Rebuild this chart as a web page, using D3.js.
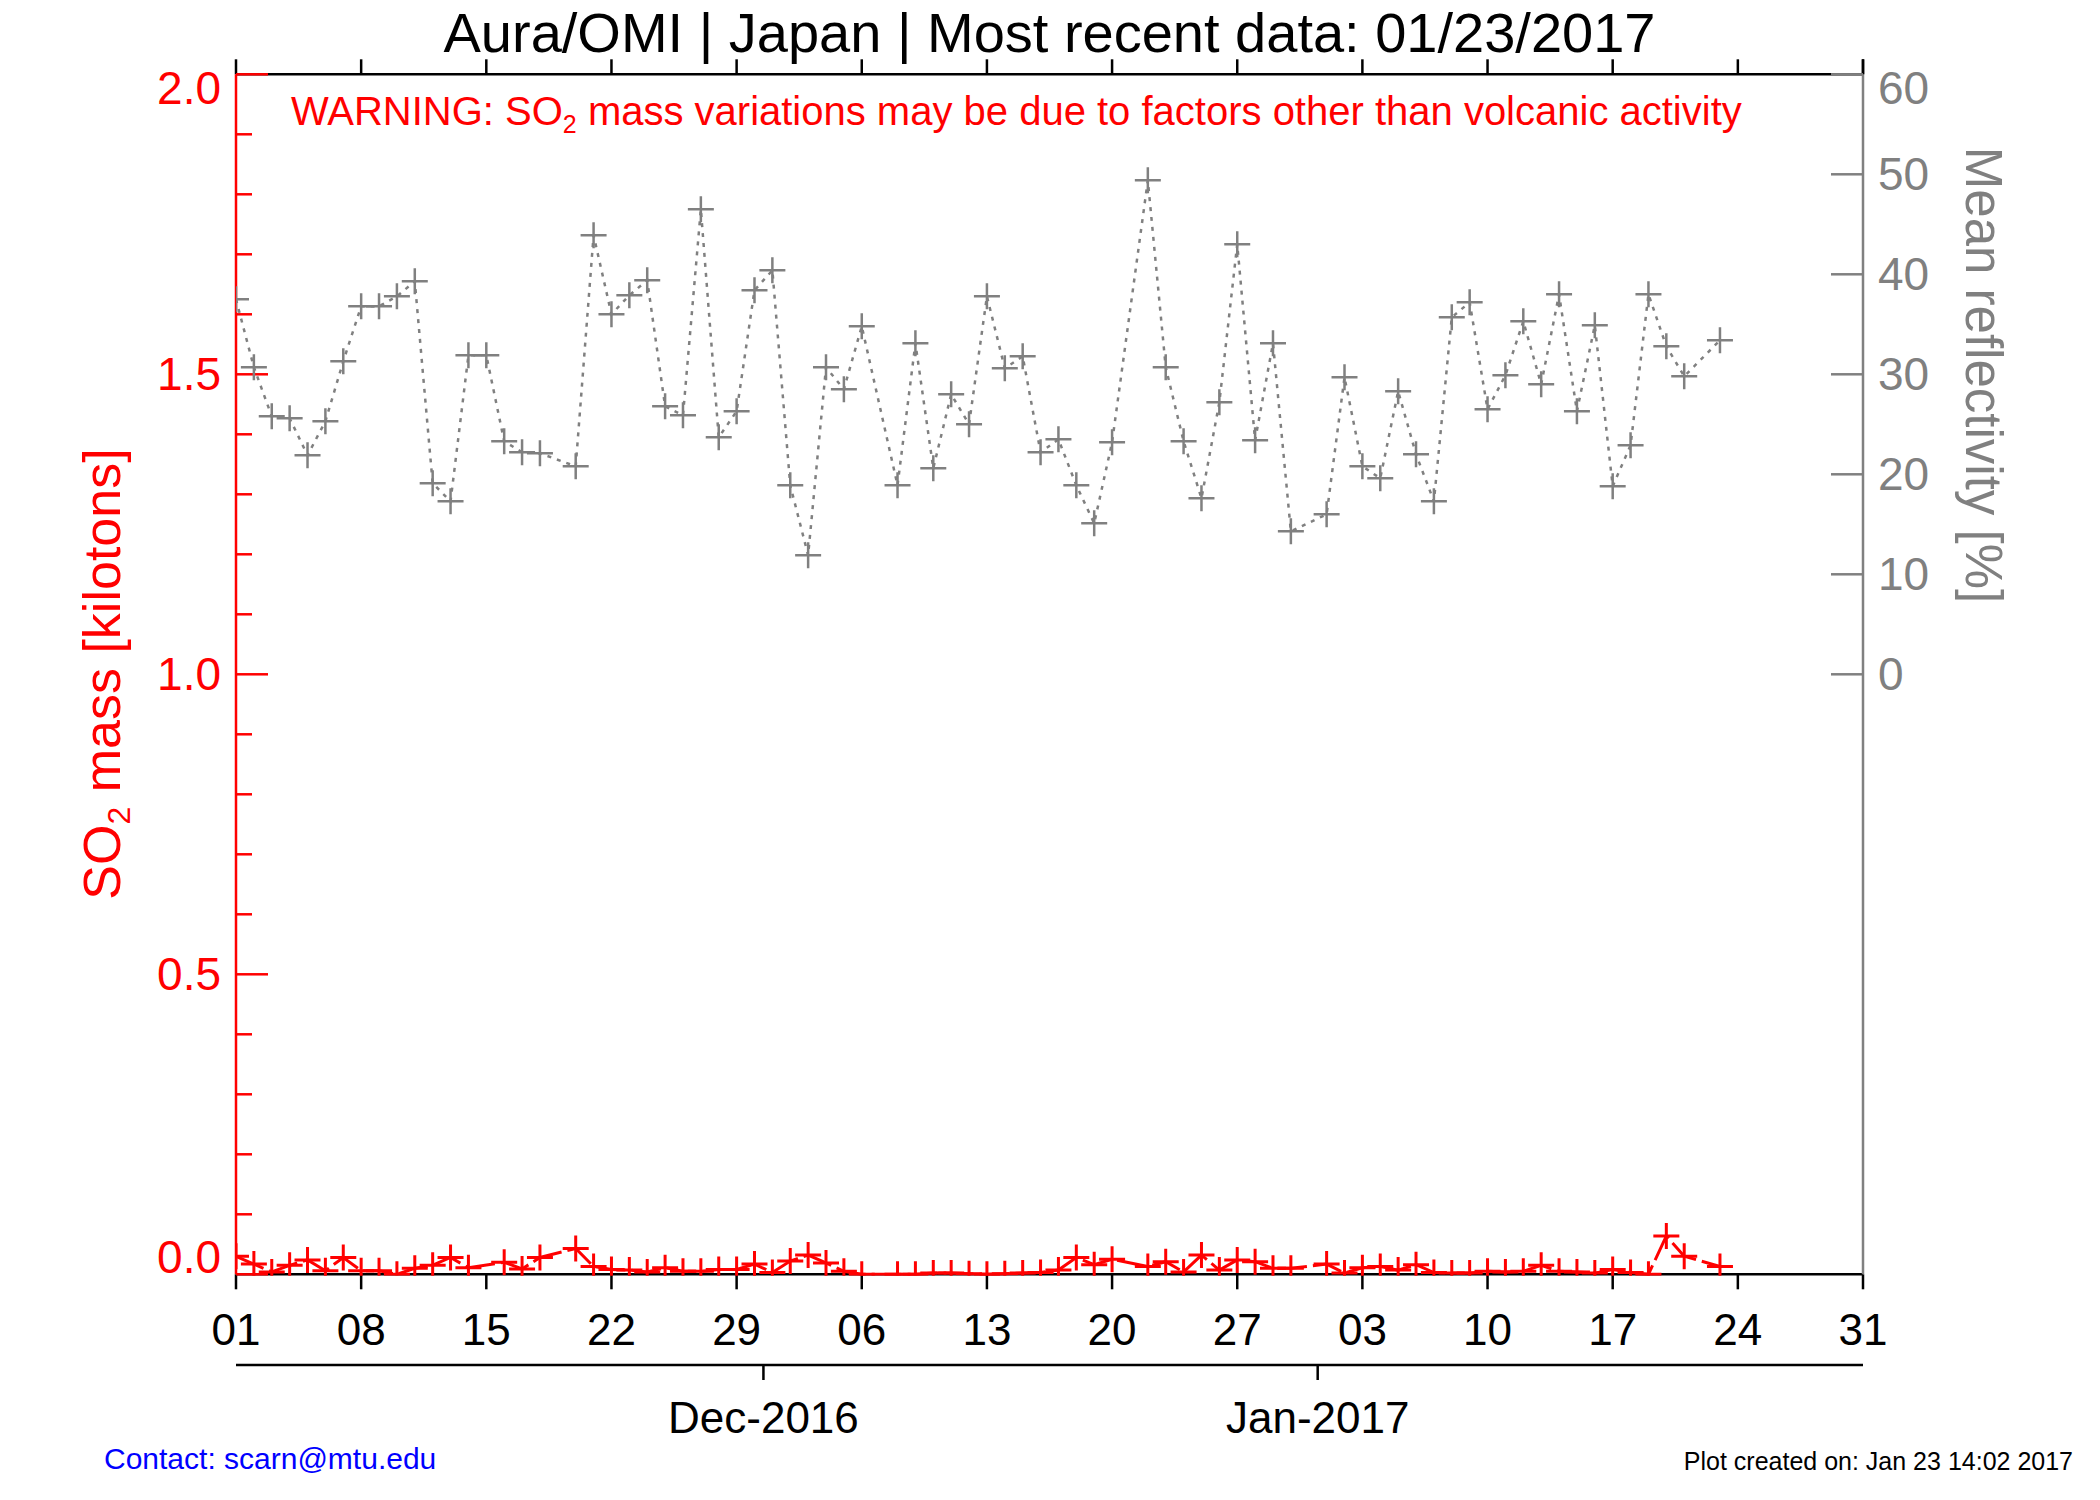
<!DOCTYPE html>
<html><head><meta charset="utf-8">
<script src="https://cdn.jsdelivr.net/npm/d3@7"></script>
<style>
html,body{margin:0;padding:0;background:#fff;}
svg{display:block;font-family:"Liberation Sans", Arial, Helvetica, sans-serif;}
</style></head><body>
<svg id="chart" width="2100" height="1500"></svg>
<script>
// ---------- data ----------
const titleText = "Aura/OMI | Japan | Most recent data: 01/23/2017";
const xTickLabels = ["01","08","15","22","29","06","13","20","27","03","10","17","24","31"];
const monthLabels = ["Dec-2016","Jan-2017"];
const monthTickDates = ["2016-11-30T12:00","2016-12-31T12:00"];
const so2Ticks = [0.0, 0.5, 1.0, 1.5, 2.0];
const reflTicks = [0, 10, 20, 30, 40, 50, 60];

const reflDates = [
 "2016-11-01","2016-11-02","2016-11-03","2016-11-04","2016-11-05","2016-11-06","2016-11-07","2016-11-08","2016-11-09",
 "2016-11-10","2016-11-11","2016-11-12","2016-11-13","2016-11-14","2016-11-15","2016-11-16","2016-11-17","2016-11-18",
 "2016-11-20","2016-11-21","2016-11-22","2016-11-23","2016-11-24","2016-11-25","2016-11-26","2016-11-27","2016-11-28",
 "2016-11-29","2016-11-30","2016-12-01","2016-12-02","2016-12-03","2016-12-04","2016-12-05","2016-12-06",
 "2016-12-08","2016-12-09","2016-12-10","2016-12-11","2016-12-12","2016-12-13","2016-12-14","2016-12-15","2016-12-16",
 "2016-12-17","2016-12-18","2016-12-19","2016-12-20",
 "2016-12-22","2016-12-23","2016-12-24","2016-12-25","2016-12-26","2016-12-27","2016-12-28","2016-12-29","2016-12-30",
 "2017-01-01","2017-01-02","2017-01-03","2017-01-04","2017-01-05","2017-01-06","2017-01-07","2017-01-08","2017-01-09",
 "2017-01-10","2017-01-11","2017-01-12","2017-01-13","2017-01-14","2017-01-15","2017-01-16","2017-01-17","2017-01-18",
 "2017-01-19","2017-01-20","2017-01-21",
 "2017-01-23"];
const reflValues = [
 37.5,30.7,25.8,25.6,21.9,25.3,31.3,36.8,36.8,
 37.8,39.3,19.1,17.3,31.9,31.9,23.3,22.2,22.1,
 20.8,43.9,36.0,37.9,39.4,26.8,25.9,46.5,23.7,
 26.3,38.4,40.4,18.9,11.9,30.7,28.5,34.8,
 18.9,33.1,20.6,28.0,25.0,37.8,30.6,31.8,22.2,
 23.5,18.9,15.1,23.2,
 49.4,30.7,23.3,17.6,27.2,43.0,23.4,33.1,14.3,
 16.0,29.7,20.8,19.6,28.3,22.0,17.3,35.7,37.2,
 26.5,29.9,35.3,29.0,38.0,26.3,34.9,18.8,22.9,
 38.0,32.8,29.8,
 33.4];

const so2Dates = [
 "2016-11-01","2016-11-02","2016-11-03","2016-11-04","2016-11-05","2016-11-06","2016-11-07","2016-11-08","2016-11-09",
 "2016-11-10","2016-11-11","2016-11-12","2016-11-13","2016-11-14","2016-11-16","2016-11-17","2016-11-18",
 "2016-11-20","2016-11-21","2016-11-22","2016-11-23","2016-11-24","2016-11-25","2016-11-26","2016-11-27","2016-11-28",
 "2016-11-29","2016-11-30","2016-12-01","2016-12-02","2016-12-03","2016-12-04","2016-12-05","2016-12-06",
 "2016-12-08","2016-12-09","2016-12-10","2016-12-11","2016-12-12","2016-12-13","2016-12-14","2016-12-15","2016-12-16",
 "2016-12-17","2016-12-18","2016-12-19","2016-12-20",
 "2016-12-22","2016-12-23","2016-12-24","2016-12-25","2016-12-26","2016-12-27","2016-12-28","2016-12-29","2016-12-30",
 "2017-01-01","2017-01-02","2017-01-03","2017-01-04","2017-01-05","2017-01-06","2017-01-07","2017-01-08","2017-01-09",
 "2017-01-10","2017-01-11","2017-01-12","2017-01-13","2017-01-14","2017-01-15","2017-01-16","2017-01-17","2017-01-18",
 "2017-01-19","2017-01-20","2017-01-21",
 "2017-01-23"];
const so2Values = [
 0.030,0.017,0.004,0.015,0.024,0.006,0.028,0.006,0.006,
 0.000,0.010,0.015,0.028,0.011,0.020,0.009,0.028,
 0.043,0.013,0.008,0.007,0.004,0.011,0.005,0.005,0.008,
 0.008,0.017,0.003,0.022,0.032,0.019,0.005,0.000,
 0.000,0.000,0.002,0.002,0.001,0.000,0.001,0.002,0.003,
 0.007,0.028,0.016,0.025,
 0.013,0.021,0.004,0.032,0.007,0.024,0.021,0.010,0.010,
 0.017,0.002,0.011,0.013,0.007,0.016,0.003,0.002,0.002,
 0.005,0.004,0.005,0.015,0.005,0.004,0.002,0.008,0.003,
 0.000,0.064,0.030,
 0.013];

// ---------- layout ----------
const L = 236, R = 1863, T = 74.3, B = 1274.3;
const RED = "#ff0000", GRAY = "#808080", BLACK = "#000000";
const parse = d3.utcParse("%Y-%m-%d");
const parseT = d3.utcParse("%Y-%m-%dT%H:%M");
const x = d3.scaleUtc().domain([parse("2016-11-01"), parse("2017-01-31")]).range([L, R]);
const yL = d3.scaleLinear().domain([0, 2]).range([B, T]);
const yR = d3.scaleLinear().domain([-60, 60]).range([B, T]);

const svg = d3.select("#chart");
svg.append("rect").attr("width",2100).attr("height",1500).attr("fill","#fff");
svg.append("defs").append("clipPath").attr("id","clip")
  .append("rect").attr("x",L).attr("y",T).attr("width",R-L).attr("height",B-T+1.5);

// title
svg.append("text").attr("x",(L+R)/2).attr("y",52).attr("text-anchor","middle")
  .attr("font-size",56).attr("fill",BLACK).text(titleText);

// warning
const warn = svg.append("text").attr("x",291).attr("y",125).attr("font-size",40).attr("fill",RED);
warn.append("tspan").text("WARNING: SO");
warn.append("tspan").attr("font-size",25).attr("dy",8).text("2");
warn.append("tspan").attr("dy",-8).text(" mass variations may be due to factors other than volcanic activity");

// ---------- axes ----------
const tickDates = d3.utcDay.range(parse("2016-11-01"), d3.utcDay.offset(parse("2017-01-31"),1), 7);
const ax = svg.append("g");
// top axis
ax.append("line").attr("x1",L).attr("x2",R).attr("y1",T).attr("y2",T).attr("stroke",BLACK).attr("stroke-width",2.5);
ax.selectAll(".tt").data(tickDates).enter().append("line")
  .attr("x1",d=>x(d)).attr("x2",d=>x(d)).attr("y1",T).attr("y2",T-15).attr("stroke",BLACK).attr("stroke-width",2.5);
// bottom axis
ax.append("line").attr("x1",L).attr("x2",R).attr("y1",B).attr("y2",B).attr("stroke",BLACK).attr("stroke-width",2.5);
ax.selectAll(".bt").data(tickDates).enter().append("line")
  .attr("x1",d=>x(d)).attr("x2",d=>x(d)).attr("y1",B).attr("y2",B+15).attr("stroke",BLACK).attr("stroke-width",2.5);
ax.selectAll(".bl").data(tickDates).enter().append("text")
  .attr("x",d=>x(d)).attr("y",1345).attr("text-anchor","middle").attr("font-size",44).attr("fill",BLACK)
  .text((d,i)=>xTickLabels[i]);
// month axis
const yM = 1365;
ax.append("line").attr("x1",L).attr("x2",R).attr("y1",yM).attr("y2",yM).attr("stroke",BLACK).attr("stroke-width",2.5);
ax.selectAll(".mt").data(monthTickDates).enter().append("line")
  .attr("x1",d=>x(parseT(d))).attr("x2",d=>x(parseT(d))).attr("y1",yM).attr("y2",yM+15).attr("stroke",BLACK).attr("stroke-width",2.5);
ax.selectAll(".ml").data(monthTickDates).enter().append("text")
  .attr("x",d=>x(parseT(d))).attr("y",1433).attr("text-anchor","middle").attr("font-size",44).attr("fill",BLACK)
  .text((d,i)=>monthLabels[i]);

// left axis (red)
ax.append("line").attr("x1",L).attr("x2",L).attr("y1",T).attr("y2",B).attr("stroke",RED).attr("stroke-width",2.5);
const minor = d3.range(0, 21).map(i=>i/10);
ax.selectAll(".lmt").data(minor).enter().append("line")
  .attr("x1",L).attr("x2",d=> (Math.round(d*10)%5===0) ? L+32 : L+16)
  .attr("y1",d=>yL(d)).attr("y2",d=>yL(d)).attr("stroke",RED).attr("stroke-width",2.5);
ax.selectAll(".ll").data(so2Ticks).enter().append("text")
  .attr("x",221).attr("y",(d,i)=> i===0 ? yL(d)-1 : (i===so2Ticks.length-1 ? yL(d)+30 : yL(d)+16))
  .attr("text-anchor","end").attr("font-size",46).attr("fill",RED).text(d=>d3.format(".1f")(d));
const lt = svg.append("text").attr("transform","translate(120,674) rotate(-90)").attr("text-anchor","middle")
  .attr("font-size",52).attr("fill",RED);
lt.append("tspan").text("SO");
lt.append("tspan").attr("font-size",32).attr("dy",10).text("2");
lt.append("tspan").attr("dy",-10).text(" mass [kilotons]");

// right axis (gray)
ax.append("line").attr("x1",R).attr("x2",R).attr("y1",T).attr("y2",B).attr("stroke",GRAY).attr("stroke-width",2.5);
ax.append("line").attr("x1",R).attr("x2",R).attr("y1",T).attr("y2",T-15).attr("stroke",BLACK).attr("stroke-width",2.5);
ax.selectAll(".rt").data(reflTicks).enter().append("line")
  .attr("x1",R-32).attr("x2",R).attr("y1",d=>yR(d)).attr("y2",d=>yR(d)).attr("stroke",GRAY).attr("stroke-width",2.5);
ax.selectAll(".rl").data(reflTicks).enter().append("text")
  .attr("x",1878).attr("y",(d,i)=> i===reflTicks.length-1 ? yR(d)+30 : yR(d)+16)
  .attr("font-size",46).attr("fill",GRAY).text(d=>d);
svg.append("text").attr("transform","translate(1966,375) rotate(90)").attr("text-anchor","middle")
  .attr("font-size",51).attr("fill",GRAY).text("Mean reflectivity [%]");

// ---------- data marks ----------
const plot = svg.append("g").attr("clip-path","url(#clip)");
const refl = reflDates.map((d,i)=>({date:parse(d), v:reflValues[i]}));
const so2 = so2Dates.map((d,i)=>({date:parse(d), v:so2Values[i]}));

plot.append("path").datum(refl)
  .attr("d", d3.line().x(d=>x(d.date)).y(d=>yR(d.v)))
  .attr("fill","none").attr("stroke",GRAY).attr("stroke-width",2.5).attr("stroke-dasharray","4,6");
const cross = (g, data, sx, sy, color, sw, s) => {
  g.selectAll(null).data(data).enter().append("path")
   .attr("d", d=>{const cx=sx(d), cy=sy(d); return `M${cx-s},${cy}H${cx+s}M${cx},${cy-s}V${cy+s}`;})
   .attr("stroke",color).attr("stroke-width",sw).attr("fill","none");
};
cross(plot, refl, d=>x(d.date), d=>yR(d.v), GRAY, 2.5, 13);

plot.append("path").datum(so2)
  .attr("d", d3.line().x(d=>x(d.date)).y(d=>yL(d.v)))
  .attr("fill","none").attr("stroke",RED).attr("stroke-width",3).attr("stroke-dasharray","30,6");
cross(plot, so2, d=>x(d.date), d=>yL(d.v), RED, 3, 13);

// footer
svg.append("text").attr("x",104).attr("y",1469).attr("font-size",30).attr("fill","#0000ff").text("Contact: scarn@mtu.edu");
svg.append("text").attr("x",2073).attr("y",1470).attr("text-anchor","end").attr("font-size",25).attr("fill",BLACK)
  .text("Plot created on: Jan 23 14:02 2017");
</script></body></html>
